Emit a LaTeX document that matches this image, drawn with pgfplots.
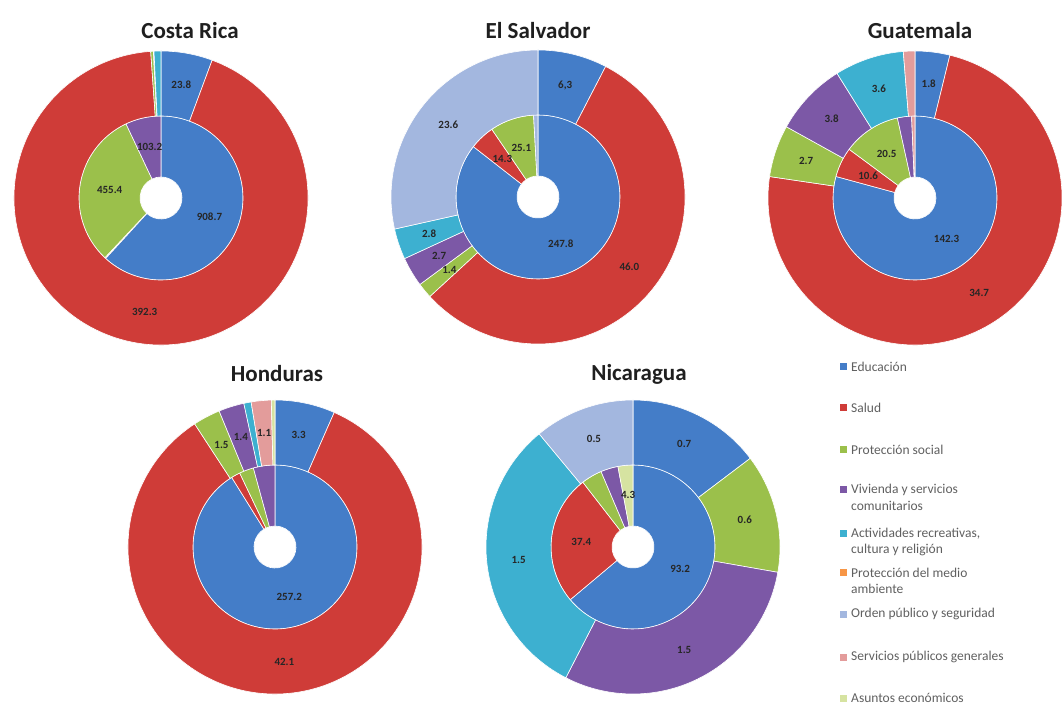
\documentclass[border=0pt]{standalone}
\usepackage{pgfplots}
\pgfplotsset{compat=1.18}
\usepackage{pgfplotstable}
\usepackage{fontspec}
\setmainfont{Carlito}

\definecolor{c0}{HTML}{447DC8}% Educacion
\definecolor{c1}{HTML}{CF3C38}% Salud
\definecolor{c2}{HTML}{9BC04B}% Proteccion social
\definecolor{c3}{HTML}{7C58A6}% Vivienda
\definecolor{c4}{HTML}{3DB0D0}% Actividades recreativas
\definecolor{c5}{HTML}{F79646}% Medio ambiente
\definecolor{c6}{HTML}{A3B7DF}% Orden publico
\definecolor{c7}{HTML}{E39C9B}% Servicios publicos
\definecolor{c8}{HTML}{D6E3A1}% Asuntos economicos
\definecolor{legtext}{HTML}{606060}

% in = inner ring, out = outer ring, tin/tout = shown labels (- = none)
\pgfplotstableread{
cat in out tin tout
0 908.7 23.8 908.7 23.8
1 3.0 392.3 - 392.3
2 455.4 1.2 455.4 -
3 103.2 0.3 103.2 -
4 0 3.2 - -
5 0 0 - -
6 0 0 - -
7 0 0 - -
8 0 0 - -
}\tabCR

\pgfplotstableread{
cat in out tin tout
0 247.8 6.3 247.8 6,3
1 14.3 46.0 14.3 46.0
2 25.1 1.4 25.1 1.4
3 0 2.7 - 2.7
4 0 2.8 - 2.8
5 0 0 - -
6 2.5 23.6 - 23.6
7 0 0 - -
8 0 0 - -
}\tabES

\pgfplotstableread{
cat in out tin tout
0 142.3 1.8 142.3 1.8
1 10.6 34.7 10.6 34.7
2 20.5 2.7 20.5 2.7
3 5.0 3.8 - 3.8
4 0 3.6 - 3.6
5 0 0 - -
6 0 0 - -
7 1.2 0.6 - -
8 0 0 - -
}\tabGT

\pgfplotstableread{
cat in out tin tout
0 257.2 3.3 257.2 3.3
1 5.0 42.1 - 42.1
2 8.0 1.5 - 1.5
3 12.0 1.4 - 1.4
4 0 0.4 - -
5 0 0 - -
6 0 0 - -
7 0 1.1 - 1.1
8 0 0.2 - -
}\tabHN

\pgfplotstableread{
cat in out tin tout
0 93.2 0.72 93.2 0.7
1 37.4 0 37.4 -
2 6.0 0.64 - 0.6
3 5.0 1.46 - 1.5
4 0 1.54 - 1.5
5 0 0 - -
6 0 0.54 - 0.5
7 0 0 - -
8 4.3 0 4.3 -
}\tabNI

\edef\nolab{-}
% #1 table, #2 value column, #3 label column, #4 inner r, #5 outer r, #6 label r
\newcommand\ring[6]{%
  \pgfplotstablegetrowsof{#1}%
  \pgfmathtruncatemacro\nr{\pgfplotsretval-1}%
  \xdef\tot{0}%
  \foreach \i in {0,...,\nr}{%
    \pgfplotstablegetelem{\i}{#2}\of{#1}%
    \pgfmathsetmacro\s{\tot+\pgfplotsretval}%
    \xdef\tot{\s}%
  }%
  \xdef\acc{0}%
  \foreach \i in {0,...,\nr}{%
    \pgfplotstablegetelem{\i}{#2}\of{#1}%
    \let\v\pgfplotsretval
    \pgfmathsetmacro\aA{90-360*(\acc/\tot)}%
    \pgfmathsetmacro\s{\acc+\v}%
    \xdef\acc{\s}%
    \pgfmathsetmacro\aB{90-360*(\acc/\tot)}%
    \ifdim\v pt>0pt
      \fill[c\i, draw=white, line width=0.6pt] (\aA:#5pt) arc[start angle=\aA, end angle=\aB, radius=#5pt]
        -- (\aB:#4pt) arc[start angle=\aB, end angle=\aA, radius=#4pt] -- cycle;
    \fi
  }%
  \xdef\acc{0}%
  \foreach \i in {0,...,\nr}{%
    \pgfplotstablegetelem{\i}{#2}\of{#1}%
    \let\v\pgfplotsretval
    \pgfplotstablegetelem{\i}{#3}\of{#1}%
    \edef\labx{\pgfplotsretval}%
    \pgfmathsetmacro\aA{90-360*(\acc/\tot)}%
    \pgfmathsetmacro\s{\acc+\v}%
    \xdef\acc{\s}%
    \pgfmathsetmacro\aB{90-360*(\acc/\tot)}%
    \pgfmathsetmacro\aM{(\aA+\aB)/2}%
    \ifx\labx\nolab\else
      \node[font=\bfseries\fontsize{11}{13}\selectfont, text=black!85] at (\aM:#6pt) {\labx};
    \fi
  }%
}
\newcommand\donut[1]{%
  \begin{scope}[shift={(axis cs:0,0)}]
    \ring{#1}{in}{tin}{21}{82}{52}%
    \ring{#1}{out}{tout}{82}{147}{115}%
  \end{scope}}

\pgfplotsset{donut/.style={hide axis, x=1pt, y=1pt, xmin=-150, xmax=150,
  ymin=-150, ymax=150, anchor=origin, clip=false, scale only axis}}

\begin{document}
\begin{tikzpicture}
\useasboundingbox (0,0) rectangle (1062pt,704pt);
\fill[white] (0,0) rectangle (1062pt,704pt);

\begin{axis}[donut, at={(161pt,506pt)}]
\addplot[draw=none] coordinates {(0,0)};
\pgfplotsextra{\donut{\tabCR}}
\end{axis}

\begin{axis}[donut, at={(538pt,507pt)}]
\addplot[draw=none] coordinates {(0,0)};
\pgfplotsextra{\donut{\tabES}}
\end{axis}

\begin{axis}[donut, at={(915pt,506pt)}]
\addplot[draw=none] coordinates {(0,0)};
\pgfplotsextra{\donut{\tabGT}}
\end{axis}

\begin{axis}[donut, at={(275pt,157pt)}]
\addplot[draw=none] coordinates {(0,0)};
\pgfplotsextra{\donut{\tabHN}}
\end{axis}

\begin{axis}[donut, at={(633pt,157pt)}]
\addplot[draw=none] coordinates {(0,0)};
\pgfplotsextra{\donut{\tabNI}}
\end{axis}

% titles and legend, placed in image pixel coordinates
\begin{scope}[x=1pt, y=-1pt, shift={(0pt,704pt)}]
  \tikzset{ttl/.style={font=\bfseries\fontsize{23}{27}\selectfont, text=black!88}}
  \node[ttl] at (190,31) {Costa Rica};
  \node[ttl] at (538,31) {El Salvador};
  \node[ttl] at (920,31) {Guatemala};
  \node[ttl] at (277,374) {Honduras};
  \node[ttl] at (639,374) {Nicaragua};

  \tikzset{lt/.style={anchor=west, inner sep=0pt, font=\fontsize{13.5}{15}\selectfont, text=legtext}}
  \foreach \y/\c/\a/\b in {367/c0/{Educación}/{}, 408/c1/{Salud}/{}, 450/c2/{Protección social}/{},
      490/c3/{Vivienda y servicios}/{comunitarios}, 534/c4/{Actividades recreativas,}/{cultura y religión},
      573/c5/{Protección del medio}/{ambiente}, 614/c6/{Orden público y seguridad}/{},
      657/c7/{Servicios públicos generales}/{}, 698/c8/{Asuntos económicos}/{}}{
    \fill[\c] (840,\y-3.5) rectangle (847,\y+3.5);
    \node[lt] at (851,\y) {\a};
    \node[lt] at (851,\y+16) {\b};
  }
\end{scope}
\end{tikzpicture}
\end{document}
